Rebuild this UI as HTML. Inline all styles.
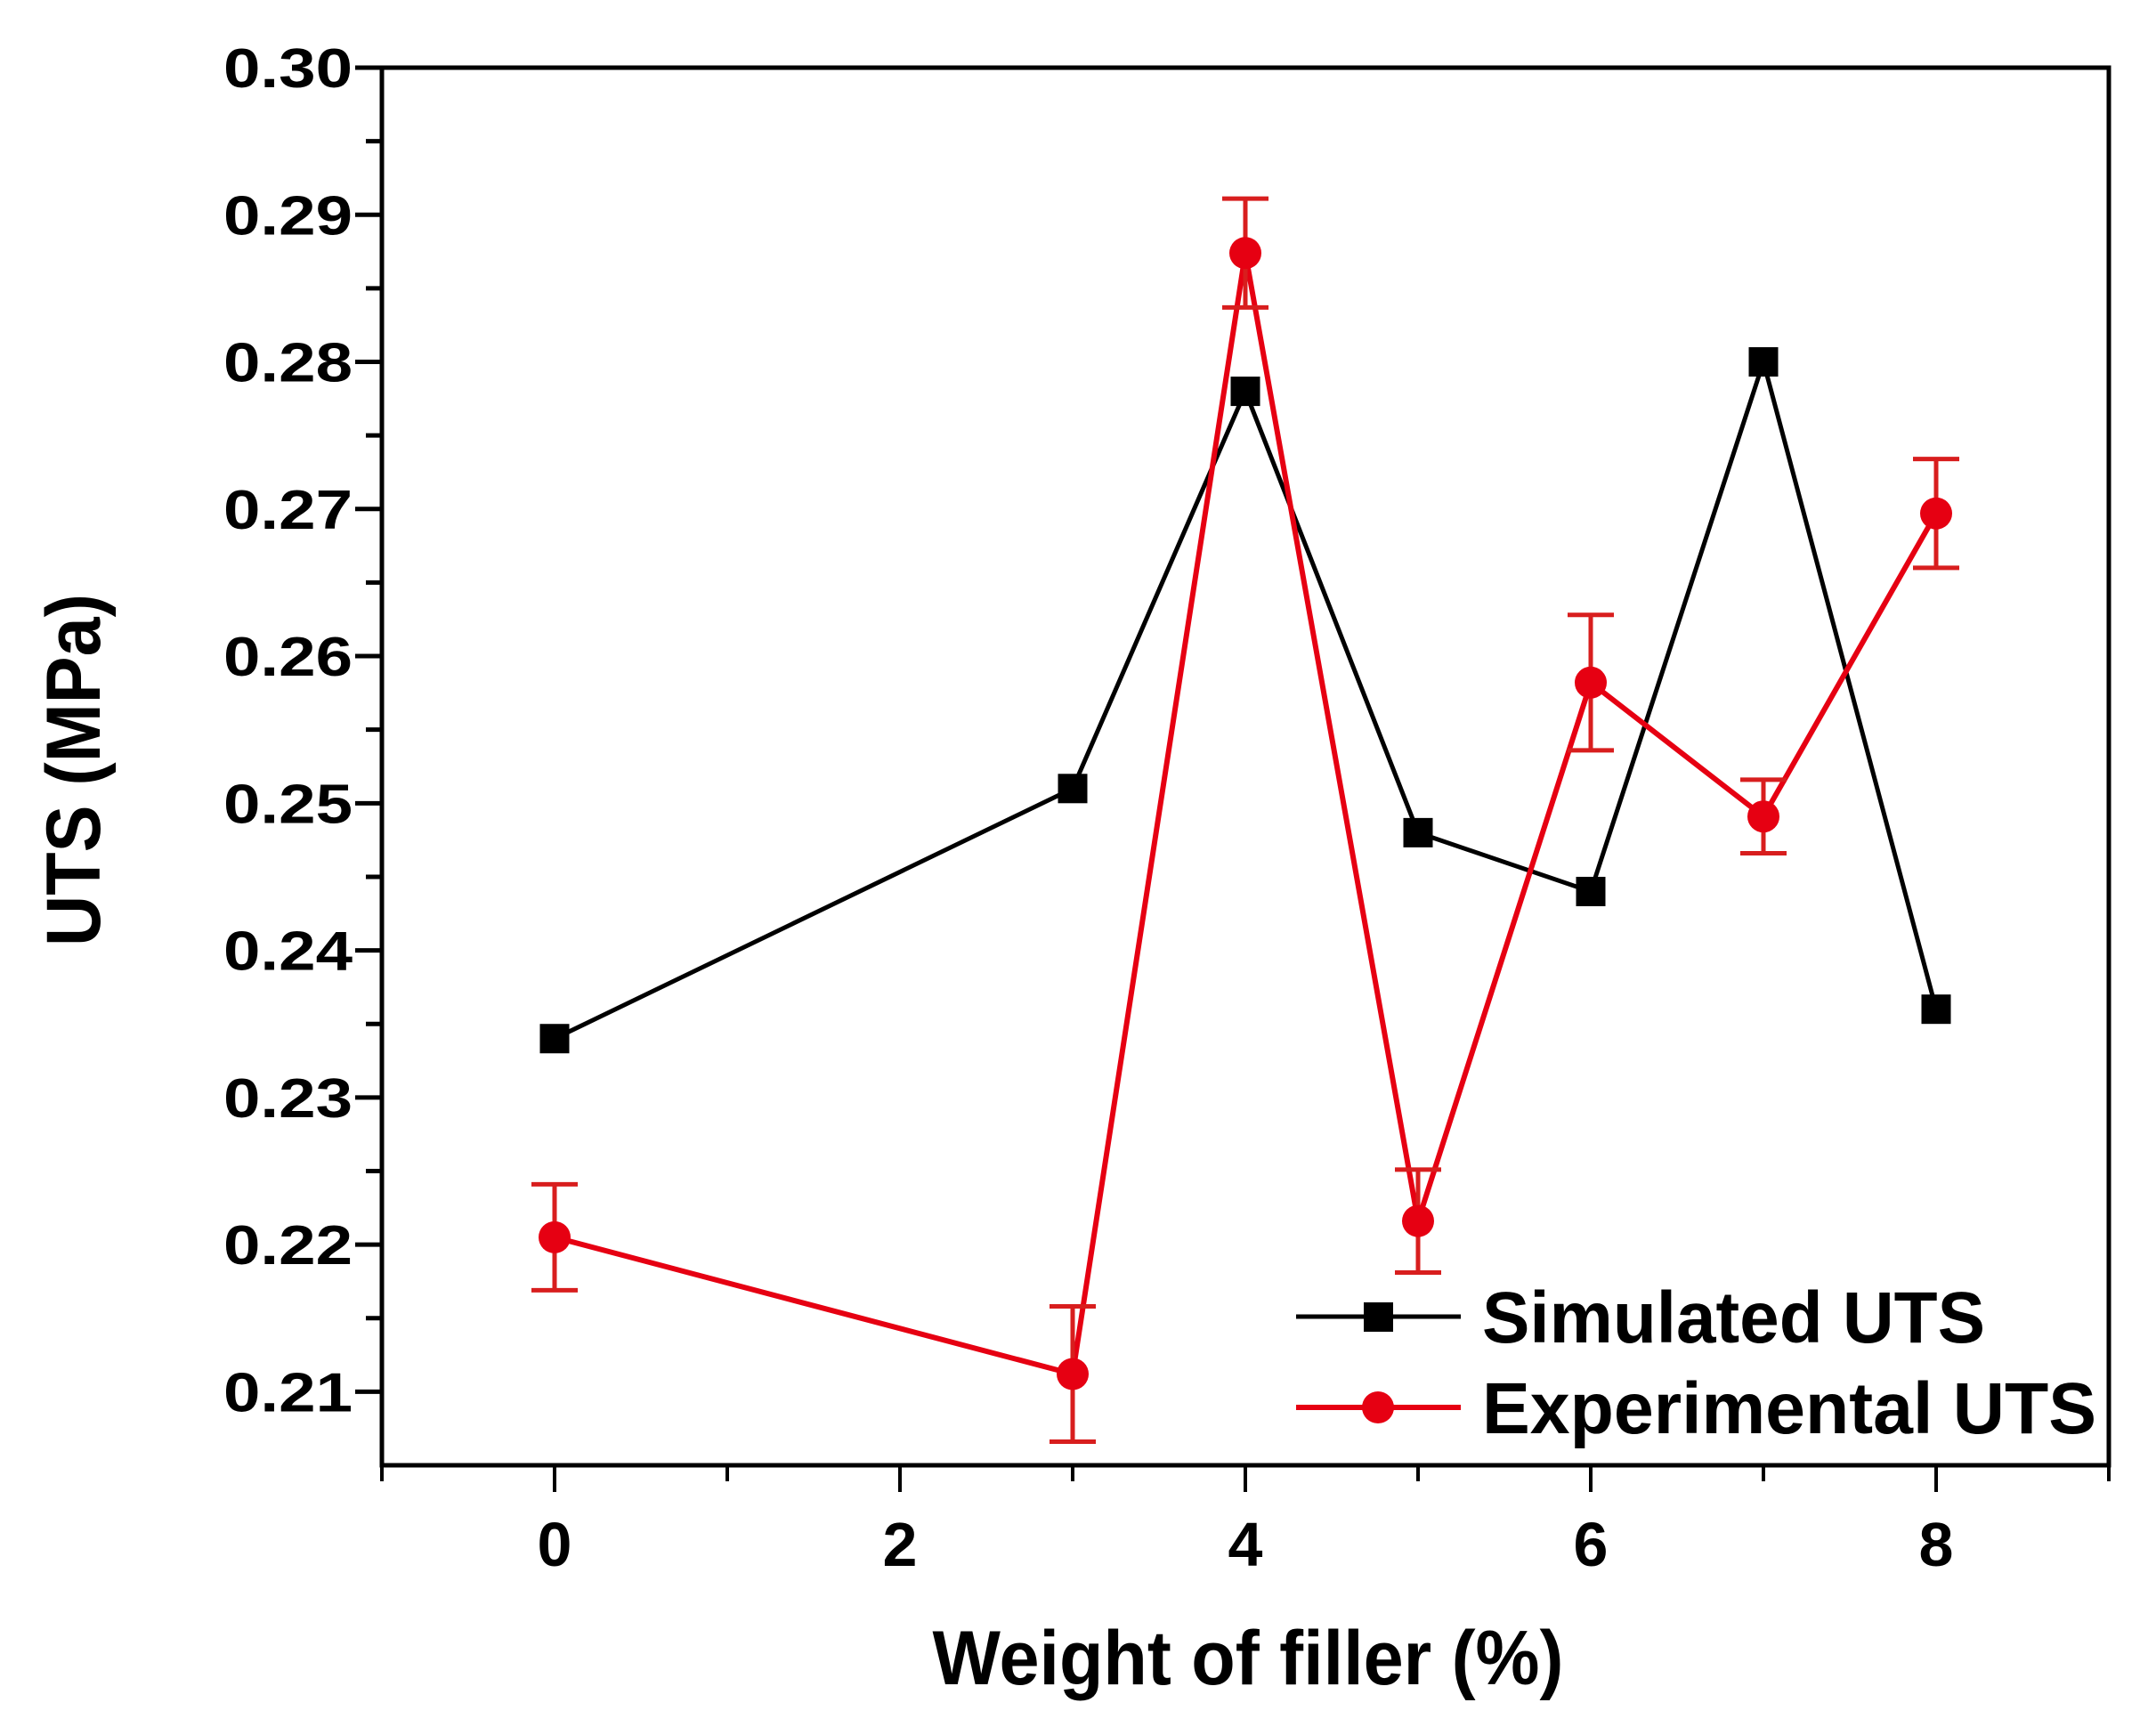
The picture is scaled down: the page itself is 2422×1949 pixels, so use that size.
<!DOCTYPE html>
<html><head><meta charset="utf-8"><style>
html,body{margin:0;padding:0;background:#fff;}
svg{display:block;font-family:"Liberation Sans",Arial,sans-serif;font-weight:bold;}
</style></head><body>
<svg id="chart" width="2422" height="1949" viewBox="0 0 2422 1949" xmlns="http://www.w3.org/2000/svg">
<g id="axes"></g>
<g id="series"></g>
<g id="legend">
  <line x1="1456" y1="1479" x2="1641" y2="1479" stroke="#000" stroke-width="5"/>
  <rect x="1532" y="1463" width="33" height="33" fill="#000"/>
  <text x="1665" y="1508" font-size="82" textLength="565" lengthAdjust="spacingAndGlyphs">Simulated UTS</text>
  <line x1="1456" y1="1581" x2="1641" y2="1581" stroke="#e60012" stroke-width="6"/>
  <circle cx="1548" cy="1581" r="18" fill="#e60012"/>
  <text x="1665" y="1610" font-size="82" textLength="690" lengthAdjust="spacingAndGlyphs">Experimental UTS</text>
</g>
<text x="1402" y="1892" font-size="86" text-anchor="middle" textLength="709" lengthAdjust="spacingAndGlyphs">Weight of filler (%)</text>
<text transform="translate(112,865) rotate(-90)" x="0" y="0" font-size="86" text-anchor="middle" textLength="396" lengthAdjust="spacingAndGlyphs">UTS (MPa)</text>
</svg>
<script>
const categories = [0, 3, 4, 5, 6, 7, 8];
const simulated = [0.234, 0.251, 0.278, 0.248, 0.244, 0.280, 0.236];
const experimental = [0.2205, 0.2112, 0.2874, 0.2216, 0.2582, 0.2491, 0.2697];
const expError = [0.0036, 0.0046, 0.0037, 0.0035, 0.0046, 0.0025, 0.0037];
const yTicks = ["0.21","0.22","0.23","0.24","0.25","0.26","0.27","0.28","0.29","0.30"];
const xTicks = ["0","2","4","6","8"];

const NS = "http://www.w3.org/2000/svg";
const L = 429, R = 2369, T = 76, B = 1646;
const xMin = -1, xMax = 9, yMin = 0.205, yMax = 0.30;
function sx(v){ return L + (v - xMin) / (xMax - xMin) * (R - L); }
function sy(v){ return B - (v - yMin) / (yMax - yMin) * (B - T); }
function mk(tag, attrs, parent){
  const e = document.createElementNS(NS, tag);
  for (const k in attrs) e.setAttribute(k, attrs[k]);
  parent.appendChild(e);
  return e;
}
const axes = document.getElementById('axes');
const series = document.getElementById('series');

let e = mk('rect', {x:L, y:T, width:R-L, height:B-T, fill:'none', stroke:'#000', 'stroke-width':5}, axes);



yTicks.forEach(function(t){
  const v = parseFloat(t);
  const y = sy(v);
  let tk = mk('line', {x1:L-30, y1:y, x2:L, y2:y, stroke:'#000', 'stroke-width':5}, axes);
  
  
  let lb = mk('text', {x:396, y:y+22, 'font-size':62, 'text-anchor':'end', textLength:145, lengthAdjust:'spacingAndGlyphs'}, axes);
  lb.textContent = t;
  
  
  const mv = v - 0.005;
  if (mv > yMin) {
    let m = mk('line', {x1:L-18, y1:sy(mv), x2:L, y2:sy(mv), stroke:'#000', 'stroke-width':5}, axes);
    
    
  }
});
xTicks.forEach(function(t){
  const v = parseFloat(t);
  const x = sx(v);
  let tk = mk('line', {x1:x, y1:B, x2:x, y2:B+30, stroke:'#000', 'stroke-width':4}, axes);
  
  
  let lb = mk('text', {x:x, y:1759, 'font-size':70, 'text-anchor':'middle'}, axes);
  lb.textContent = t;
  
  
});
for (let v = xMin; v <= xMax; v += 2) {
  let m = mk('line', {x1:sx(v), y1:B, x2:sx(v), y2:B+18, stroke:'#000', 'stroke-width':4}, axes);
  
  
}

let pts = categories.map(function(c,i){ return sx(c)+','+sy(simulated[i]); }).join(' ');
let pl = mk('polyline', {points:pts, fill:'none', stroke:'#000', 'stroke-width':5}, series);



let pts2 = categories.map(function(c,i){ return sx(c)+','+sy(experimental[i]); }).join(' ');
let pl2 = mk('polyline', {points:pts2, fill:'none', stroke:'#e60012', 'stroke-width':6}, series);



categories.forEach(function(c,i){
  const x = sx(c), yt = sy(experimental[i] + expError[i]), yb = sy(experimental[i] - expError[i]);
  let g = mk('g', {stroke:'#d81e1e', 'stroke-width':5}, series);
  
  
  mk('line', {x1:x, y1:yt, x2:x, y2:yb}, g);
  mk('line', {x1:x-26, y1:yt, x2:x+26, y2:yt}, g);
  mk('line', {x1:x-26, y1:yb, x2:x+26, y2:yb}, g);
});

categories.forEach(function(c,i){
  let r = mk('rect', {x:sx(c)-16.5, y:sy(simulated[i])-16.5, width:33, height:33, fill:'#000'}, series);
  
  
});
categories.forEach(function(c,i){
  let ci = mk('circle', {cx:sx(c), cy:sy(experimental[i]), r:18, fill:'#e60012'}, series);
  
  
});
</script>
</body></html>
